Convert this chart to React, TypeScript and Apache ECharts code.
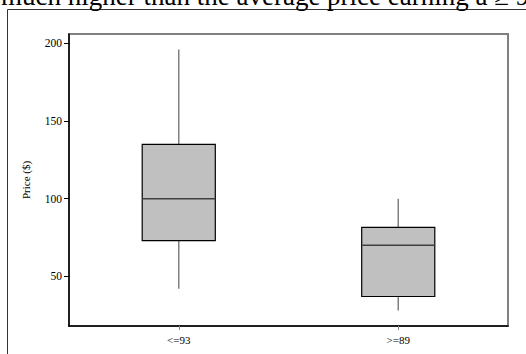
import React, { useEffect, useRef } from "react";
import * as echarts from "echarts";

const categories = ["<=93", ">=89"];
const lowerWhisker = [42, 28];
const q1 = [73, 37];
const median = [100, 70];
const q3 = [135, 81.5];
const upperWhisker = [196, 100];
const yTicks = [50, 100, 150, 200];
const yName = "Price ($)";
const headline = "much higher than the average price earning a \u2265 90 points";

const FONT = "Liberation Serif";

export default function App() {
  const ref = useRef<HTMLDivElement>(null);
  useEffect(() => {
    if (!ref.current) return;
    const chart = echarts.init(ref.current, undefined, { renderer: "svg" });
    const data = categories.map((_, i) => [i, lowerWhisker[i], q1[i], median[i], q3[i], upperWhisker[i]]);
    chart.setOption({
      animation: false,
      backgroundColor: "#ffffff",
      textStyle: { fontFamily: FONT },
      graphic: [
        {
          type: "text",
          x: 1,
          y: -4,
          silent: true,
          style: {
            text: headline,
            fontFamily: FONT,
            fontSize: 27,
            fill: "#000",
            verticalAlign: "middle",
            align: "left",
          },
        },
        {
          type: "rect",
          silent: true,
          z: -1,
          shape: { x: 7.5, y: 9.5, width: 700, height: 500 },
          style: { fill: "none", stroke: "#333", lineWidth: 1 },
        },
      ],
      grid: {
        left: 69,
        top: 34,
        right: 18,
        bottom: 28,
        show: true,
        borderColor: "#808080",
        borderWidth: 2,
        backgroundColor: "transparent",
      },
      xAxis: {
        type: "category",
        data: categories,
        axisLine: { show: true, lineStyle: { color: "#000", width: 1.5 } },
        axisTick: { show: true, alignWithLabel: true, length: 4, lineStyle: { color: "#888" } },
        axisLabel: { color: "#000", fontFamily: FONT, fontSize: 11, margin: 8 },
        splitLine: { show: false },
      },
      yAxis: {
        type: "value",
        min: 18,
        max: 206,
        name: yName,
        nameLocation: "middle",
        nameGap: 38,
        nameTextStyle: { color: "#000", fontFamily: FONT, fontSize: 11 },
        axisLine: { show: true, lineStyle: { color: "#000", width: 1.5 } },
        axisTick: { show: true, length: 5, customValues: yTicks, lineStyle: { color: "#000" } },
        axisLabel: { color: "#000", fontFamily: FONT, fontSize: 11.5, margin: 7, customValues: yTicks },
        splitLine: { show: false },
      },
      series: [
        {
          type: "custom",
          data,
          encode: { x: 0, y: [1, 2, 3, 4, 5] },
          renderItem: (params: any, api: any) => {
            const idx = api.value(0);
            const lo = api.coord([idx, api.value(1)]);
            const b1 = api.coord([idx, api.value(2)]);
            const md = api.coord([idx, api.value(3)]);
            const b3 = api.coord([idx, api.value(4)]);
            const hi = api.coord([idx, api.value(5)]);
            const bw = api.size([1, 0])[0] * 0.333;
            const cx = lo[0];
            return {
              type: "group",
              children: [
                {
                  type: "line",
                  shape: { x1: cx, y1: hi[1], x2: cx, y2: b3[1] },
                  style: { stroke: "#808080", lineWidth: 1.5 },
                },
                {
                  type: "line",
                  shape: { x1: cx, y1: b1[1], x2: cx, y2: lo[1] },
                  style: { stroke: "#808080", lineWidth: 1.5 },
                },
                {
                  type: "rect",
                  shape: { x: cx - bw / 2, y: b3[1], width: bw, height: b1[1] - b3[1] },
                  style: { fill: "#c0c0c0", stroke: "#000", lineWidth: 1.2 },
                },
                {
                  type: "line",
                  shape: { x1: cx - bw / 2, y1: md[1], x2: cx + bw / 2, y2: md[1] },
                  style: { stroke: "#404040", lineWidth: 1.5 },
                },
              ],
            };
          },
        },
      ],
    });
    return () => chart.dispose();
  }, []);
  return (
    <div
      ref={ref}
      style={{ position: "fixed", left: 0, top: 0, width: 526, height: 354 }}
    />
  );
}
